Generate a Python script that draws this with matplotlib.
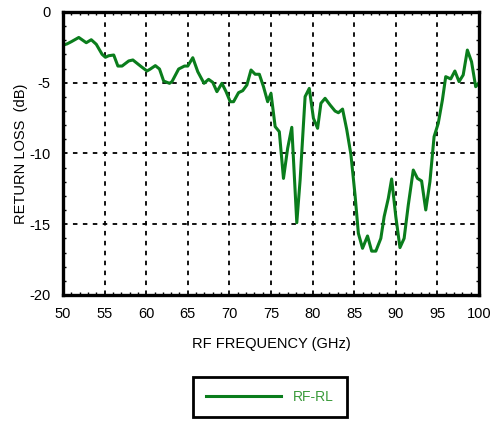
import numpy as np
import matplotlib
matplotlib.use('Agg')
import matplotlib.pyplot as plt
from matplotlib.ticker import MultipleLocator

plt.rcParams['font.family'] = ['Liberation Sans', 'DejaVu Sans']
plt.rcParams['axes.unicode_minus'] = False

# Data
freq = [50.0, 50.5, 51.0, 51.9, 52.8, 53.4, 54.0, 54.7, 55.1, 55.5, 56.1, 56.6, 57.1,
        57.9, 58.4, 59.4, 60.1, 60.5, 61.1, 61.6, 62.1, 62.8, 63.1, 63.9, 64.6,
        65.0, 65.6, 66.2, 66.95, 67.5, 68.0, 68.5, 69.1, 69.6, 70.1, 70.5, 71.1,
        71.6, 72.1, 72.6, 73.1, 73.6, 74.1, 74.6, 75.0, 75.5, 76.0, 76.5, 77.0,
        77.5, 78.1, 78.5, 79.1, 79.6, 80.1, 80.6, 81.0, 81.5, 82.1, 82.7, 83.1,
        83.6, 84.1, 84.6, 85.1, 85.5, 86.0, 86.6, 87.1, 87.6, 88.2, 88.6, 89.1,
        89.5, 90.0, 90.5, 91.0, 91.5, 92.1, 92.6, 93.1, 93.6, 94.1, 94.6, 95.1,
        95.6, 96.0, 96.6, 97.1, 97.6, 98.1, 98.6, 99.1, 99.6, 100.0]
rl = [-2.35, -2.25, -2.1, -1.8, -2.17, -1.96, -2.28, -2.99, -3.2, -3.09, -3.04, -3.82, -3.82,
      -3.46, -3.39, -3.86, -4.17, -4.03, -3.79, -4.03, -4.88, -5.04, -4.92, -4.03, -3.82,
      -3.82, -3.23, -4.22, -5.04, -4.76, -4.97, -5.63, -5.04, -5.63, -6.34, -6.34, -5.7,
      -5.56, -5.16, -4.1, -4.4, -4.4, -5.28, -6.34, -5.75, -8.1, -8.46, -11.76, -9.64,
      -8.15, -14.89, -11.87, -5.98, -5.4, -7.51, -8.22, -6.45, -6.1, -6.57, -7.0, -7.12,
      -6.86, -8.3, -10.05, -12.93, -15.64, -16.7, -15.83, -16.9, -16.9, -16.0, -14.46, -13.17,
      -11.8, -14.46, -16.65, -16.0, -13.64, -11.17, -11.76, -11.94, -13.99, -11.99, -8.81, -7.87,
      -6.22, -4.57, -4.73, -4.17, -4.92, -4.45, -2.69, -3.51, -5.28, -5.0]

xticks = [50, 55, 60, 65, 70, 75, 80, 85, 90, 95, 100]
yticks = [-20, -15, -10, -5, 0]

fig = plt.figure(figsize=(4.92, 4.21), dpi=100)
ax = fig.add_axes([0.128, 0.2993, 0.8456, 0.6722])

ax.plot(freq, rl, color='#0a7d1c', lw=2.2, label='RF-RL')

ax.set_xlim(50, 100)
ax.set_ylim(-20, 0)
ax.set_xticks(xticks)
ax.set_yticks(yticks)
ax.xaxis.set_minor_locator(MultipleLocator(1))
ax.yaxis.set_minor_locator(MultipleLocator(1))
ax.tick_params(which='both', direction='in', top=True, right=True, labelsize=10.5, colors='black')
ax.tick_params(axis='x', which='major', length=0, pad=9)
ax.tick_params(axis='y', which='major', length=0, pad=9)
ax.tick_params(which='minor', length=2.2, width=1.0)

ax.grid(True, which='major', color='black', ls=(0, (2.5, 3)), lw=1.3)

for s in ax.spines.values():
    s.set_linewidth(2.4)

ax.set_xlabel('RF FREQUENCY (GHz)', fontsize=10.5, labelpad=11)
ax.set_ylabel('RETURN LOSS  (dB)', fontsize=10.5, labelpad=1)

leg = fig.legend(loc='center', bbox_to_anchor=(270 / 492, 1 - 397 / 421),
                 frameon=True, fancybox=False, framealpha=1, fontsize=10,
                 labelcolor='#3a9a3a', handlelength=5.4, borderpad=0.95,
                 handletextpad=0.85, borderaxespad=0)
leg.get_frame().set_edgecolor('black')
leg.get_frame().set_linewidth(2.0)

fig.savefig('out.png', dpi=100)
